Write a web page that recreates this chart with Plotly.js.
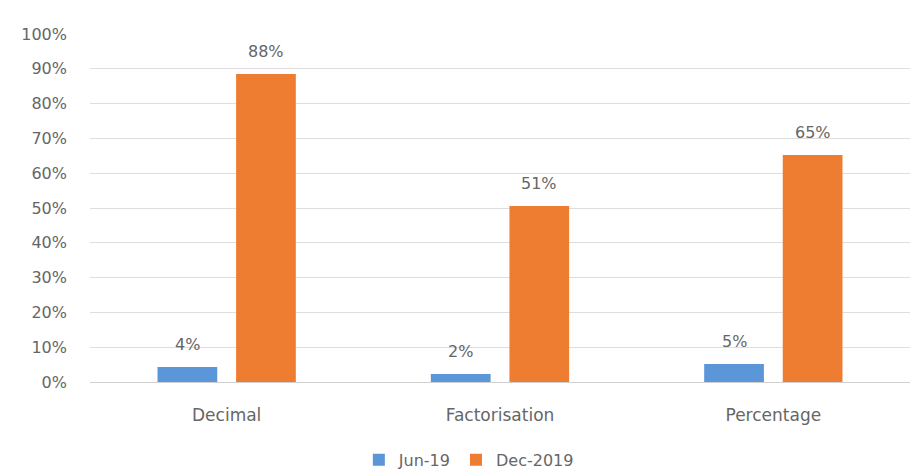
<!DOCTYPE html>
<html>
<head>
<meta charset="utf-8">
<script src="https://cdn.plot.ly/plotly-3.0.1.min.js"></script>
<style>html,body{margin:0;padding:0;background:#fff}#chart{width:914px;height:473px}</style>
</head>
<body>
<div id="chart"></div>
<script>
var categories = ['Decimal', 'Factorisation', 'Percentage'];
var seriesNames = ['Jun-19', 'Dec-2019'];
var jun19 = [0.043, 0.023, 0.052];
var dec2019 = [0.885, 0.506, 0.652];
var jun19Labels = ['4%', '2%', '5%'];
var dec2019Labels = ['88%', '51%', '65%'];
var colors = ['#5A96D8', '#EE7D31'];

var traces = [
  {type: 'bar', name: seriesNames[0], x: categories, y: jun19, marker: {color: colors[0]}, hoverinfo: 'none'},
  {type: 'bar', name: seriesNames[1], x: categories, y: dec2019, marker: {color: colors[1]}, hoverinfo: 'none'}
];

var FONT = '"DejaVu Sans", sans-serif';
var bargap = 0.425;
var slot = (1 - bargap) / 2;
var annotations = [];
[[jun19, jun19Labels, -1], [dec2019, dec2019Labels, 1]].forEach(function (s) {
  s[0].forEach(function (v, i) {
    annotations.push({
      x: i + s[2] * slot / 2, y: v, xref: 'x', yref: 'y',
      text: s[1][i], showarrow: false, yanchor: 'bottom', yshift: 11,
      font: {family: FONT, size: 16, color: '#666666'}
    });
  });
});

var layout = {
  width: 914, height: 473,
  margin: {l: 90, r: 4, t: 34, b: 91, autoexpand: false},
  paper_bgcolor: '#fff', plot_bgcolor: '#fff',
  font: {family: FONT, color: '#666666', size: 16},
  barmode: 'group', bargap: bargap, bargroupgap: 0.24,
  showlegend: true,
  legend: {orientation: 'h', xref: 'paper', yref: 'paper', x: 0.462, xanchor: 'center', y: -0.224, yanchor: 'middle', itemwidth: 30, tracegroupgap: 0, font: {family: FONT, size: 16, color: '#666666'}},
  xaxis: {type: 'category', showgrid: false, zeroline: false, showline: true, linecolor: '#d0d0d0', ticks: '', ticklabelstandoff: 18, tickfont: {size: 17}},
  yaxis: {range: [0, 1], dtick: 0.1, tickformat: '.0%', showgrid: true, gridcolor: '#dedede', zeroline: false, showline: false, ticks: '', ticklabelstandoff: 22, tickfont: {size: 16}},
  annotations: annotations
};

Plotly.newPlot('chart', traces, layout, {displayModeBar: false, staticPlot: true});
</script>
</body>
</html>
